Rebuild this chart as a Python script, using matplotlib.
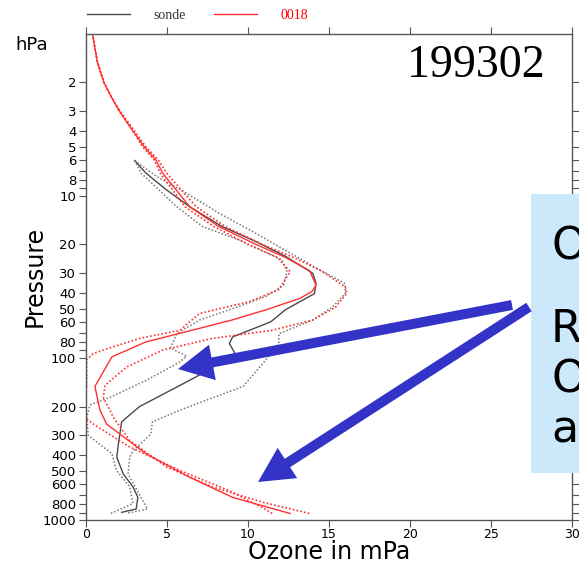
import matplotlib
matplotlib.use("Agg")
import matplotlib.pyplot as plt
from matplotlib.patches import FancyArrow, Rectangle
from matplotlib.ticker import NullLocator

# ---- data (pressure in hPa, ozone in mPa) ----
sonde_p = [6.07, 7.26, 9.2, 11.7, 15.5, 18.8, 23.6, 30.1, 34.8, 40.2, 50.6, 60, 74.3,
           81.7, 94, 131, 200, 248, 340, 410, 520, 625, 725, 855, 897]
sonde_o3 = [3.0, 3.7, 4.96, 6.4, 8.4, 10.3, 12.3, 14.0, 14.2, 14.1, 12.3, 11.4, 9.05,
            8.85, 9.2, 6.8, 3.3, 2.2, 2.0, 1.9, 2.3, 2.9, 3.2, 3.1, 2.2]

sonde_lo_p = [6.07, 7.26, 11.7, 15.5, 19.2, 24.9, 29.4, 35.6, 41.8, 49.8, 58.5, 71, 87,
              97.5, 106, 138, 175, 195, 232, 301, 390, 495, 625, 790, 920]
sonde_lo = [3.0, 3.4, 5.6, 7.2, 9.7, 12.1, 12.4, 12.2, 11.1, 9.05, 7.0, 5.6, 5.2,
            6.2, 5.8, 3.7, 1.5, 0.25, 0.05, 0.14, 1.6, 1.88, 2.7, 2.9, 1.45]

sonde_hi_p = [6.07, 7.6, 9.66, 12.8, 17.1, 21.7, 28.6, 34.8, 40.2, 48.7, 58.5, 71, 81.7,
              103, 150, 210, 248, 295, 375, 410, 520, 697, 855, 905]
sonde_hi = [3.0, 4.35, 6.2, 8.2, 10.5, 12.3, 14.4, 16.0, 16.0, 15.2, 14.0, 11.9, 11.9,
            11.1, 9.7, 5.8, 4.1, 4.0, 2.9, 2.7, 2.6, 3.3, 3.8, 2.6]

model_p = [1, 1.5, 2, 2.5, 3, 4, 5, 6, 7.3, 11.7, 15.5, 20, 24, 29, 35.6, 39, 43, 50.6,
           58.5, 65.8, 79.8, 98.6, 150, 210, 256, 390, 545, 725, 912]
model_o3 = [0.4, 0.7, 1.1, 1.6, 2.05, 2.9, 3.6, 4.3, 4.75, 6.4, 8.2, 10.5, 12.3, 13.8, 14.2,
            13.95, 13.2, 11.1, 9.0, 7.0, 3.7, 1.6, 0.55, 0.86, 1.27, 3.7, 6.4, 9.05, 12.6]

model_lo_p = [1, 1.5, 2, 2.5, 3, 4, 5, 6, 7.3, 11.7, 15.5, 20, 24, 29.4, 38, 45, 53.3, 67.6,
              75.9, 85.5, 94, 103, 150, 200, 256, 355, 495, 660, 840, 912]
model_lo = [0.4, 0.7, 1.1, 1.6, 2.05, 2.9, 3.5, 4.2, 4.6, 6.1, 7.9, 10.0, 11.8, 12.6, 11.9,
            10.1, 7.0, 5.8, 3.3, 1.68, 0.45, 0.04, 0.04, -0.9, 0.45, 2.7, 5.8, 8.85, 10.9, 11.5]

model_hi_p = [1, 1.5, 2, 2.5, 3, 4, 5, 6, 7.3, 11.7, 15.5, 20, 24, 29, 36.5, 40, 48.7, 58.5,
              67.6, 75.9, 89.5, 114, 148, 175, 232, 324, 470, 625, 777, 912]
model_hi = [0.4, 0.7, 1.1, 1.6, 2.1, 3.0, 3.7, 4.45, 5.0, 6.8, 8.6, 10.9, 12.8, 14.5, 16.0,
            16.1, 15.4, 14.0, 11.5, 7.8, 4.75, 2.5, 1.17, 1.07, 1.68, 2.7, 4.96, 7.8, 10.9, 13.8]

p_ticks = [2, 3, 4, 5, 6, 7, 8, 9, 10, 20, 30, 40, 50, 60, 70, 80, 90, 100,
           200, 300, 400, 500, 600, 700, 800, 900, 1000]
p_labels = ['' if str(t)[0] in '79' else str(t) for t in p_ticks]
x_ticks = [0, 5, 10, 15, 20, 25, 30]

month = '199302'
series_names = ['sonde', '0018']

# ---- figure ----
W, H = 579, 565
fig = plt.figure(figsize=(W / 100, H / 100), dpi=100)
ax = fig.add_axes([86 / W, 1 - 520 / H, 486 / W, 486.5 / H])

gray, dgray, red = '#777777', '#4a4a4a', '#ff3030'
dot = (0, (1, 1.3))

l_sonde, = ax.plot(sonde_o3, sonde_p, color=dgray, lw=1.0)
ax.plot(sonde_lo, sonde_lo_p, color=gray, lw=1.1, ls=dot)
ax.plot(sonde_hi, sonde_hi_p, color=gray, lw=1.1, ls=dot)
l_model, = ax.plot(model_o3, model_p, color=red, lw=1.0)
ax.plot(model_lo, model_lo_p, color=red, lw=1.2, ls=dot)
ax.plot(model_hi, model_hi_p, color=red, lw=1.2, ls=dot)

ax.set_yscale('log')
ax.set_ylim(1000, 1)
ax.set_xlim(0, 30)
ax.set_yticks(p_ticks)
ax.set_yticklabels(p_labels)
ax.yaxis.set_minor_locator(NullLocator())
ax.set_xticks(x_ticks)
ax.tick_params(which='both', direction='out', top=True, right=True, length=5,
               width=0.8, color='#555555', labelsize=9.5, pad=2)
ax.tick_params(axis='x', labelsize=9, pad=1)
for s in ax.spines.values():
    s.set_color('#555555')
    s.set_linewidth(1.0)

ax.set_xlabel('Ozone in mPa', fontsize=17)
ax.xaxis.set_label_coords(0.5, -0.041)
ax.set_ylabel('Pressure', fontsize=17)
ax.yaxis.set_label_coords(-0.08, 0.5)

fig.text(15 / W, 1 - 45 / H, 'hPa', fontsize=13, va='center', ha='left')
fig.text(545 / W, 1 - 77 / H, month, fontsize=33, family='Liberation Serif',
         ha='right', va='baseline')

leg = ax.legend([l_sonde, l_model], series_names, loc='upper left',
                bbox_to_anchor=(87 / W, 1 - 9 / H), bbox_transform=fig.transFigure,
                ncol=2, frameon=False, prop={'family': 'Liberation Serif', 'size': 10},
                handlelength=3.1, handletextpad=1.7, columnspacing=2.0,
                borderpad=0, borderaxespad=0)
leg.get_texts()[0].set_color('#333333')
leg.get_texts()[1].set_color('red')

# ---- overlay: callout box and arrows (pixel coordinates) ----
ov = fig.add_axes([0, 0, 1, 1], zorder=5)
ov.set_xlim(0, W)
ov.set_ylim(H, 0)
ov.axis('off')
ov.patch.set_alpha(0)
ov.add_patch(Rectangle((531, 194), 60, 279, color='#cce9fb', lw=0))
for txt, yy in zip(['O', 'R', 'O', 'ac'], [247, 330, 380, 430]):
    ov.text(551, yy, txt, fontsize=32, va='center', ha='left')

blue = '#3333c8'
ov.add_patch(FancyArrow(512, 305, 178 - 512, 369 - 305, width=10, head_width=36,
                        head_length=35, length_includes_head=True, color=blue, lw=0))
ov.add_patch(FancyArrow(529, 307, 258 - 529, 482 - 307, width=10, head_width=36,
                        head_length=35, length_includes_head=True, color=blue, lw=0))

plt.savefig('out.png', dpi=100)
